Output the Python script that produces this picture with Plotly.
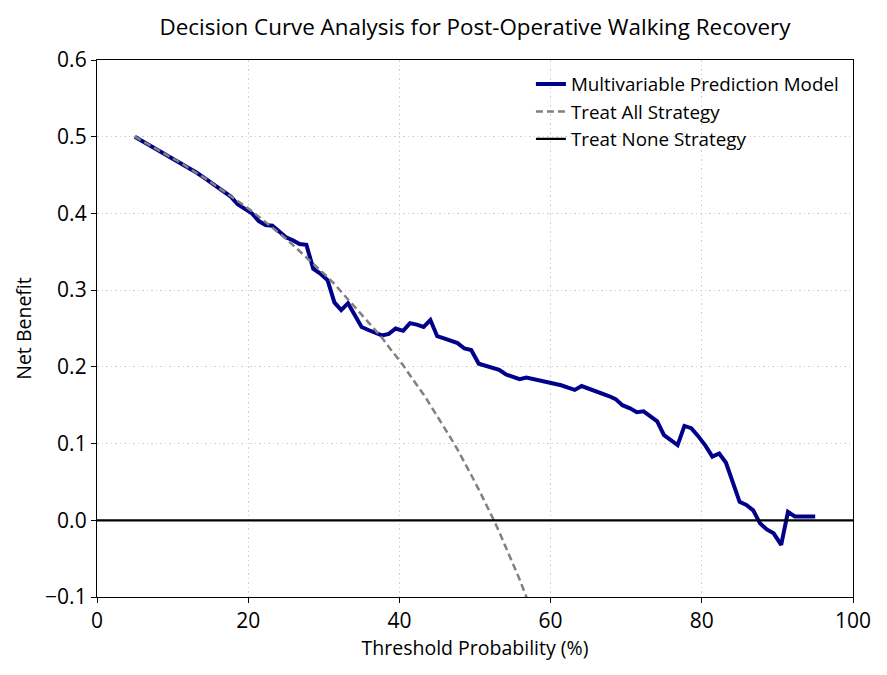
import plotly.graph_objects as go

# threshold grid (%), 100 steps from 5 to 95
thresholds = [
    5.0, 5.9, 6.8, 7.7, 8.6, 9.5, 10.5, 11.4, 12.3, 13.2,
    14.1, 15.0, 15.9, 16.8, 17.7, 18.6, 19.5, 20.5, 21.4, 22.3,
    23.2, 24.1, 25.0, 25.9, 26.8, 27.7, 28.6, 29.5, 30.5, 31.4,
    32.3, 33.2, 34.1, 35.0, 35.9, 36.8, 37.7, 38.6, 39.5, 40.5,
    41.4, 42.3, 43.2, 44.1, 45.0, 45.9, 46.8, 47.7, 48.6, 49.5,
    50.5, 51.4, 52.3, 53.2, 54.1, 55.0, 55.9, 56.8, 57.7, 58.6,
    59.5, 60.5, 61.4, 62.3, 63.2, 64.1, 65.0, 65.9, 66.8, 67.7,
    68.6, 69.5, 70.5, 71.4, 72.3, 73.2, 74.1, 75.0, 75.9, 76.8,
    77.7, 78.6, 79.5, 80.5, 81.4, 82.3, 83.2, 84.1, 85.0, 85.9,
    86.8, 87.7, 88.6, 89.5, 90.5, 91.4, 92.3, 93.2, 94.1, 95.0,
]

nb_model = [
    0.500, 0.495, 0.490, 0.485, 0.480, 0.475, 0.469, 0.464, 0.458, 0.453,
    0.447, 0.441, 0.435, 0.429, 0.422, 0.412, 0.406, 0.400, 0.390, 0.385,
    0.384, 0.376, 0.369, 0.365, 0.360, 0.359, 0.328, 0.322, 0.313, 0.284,
    0.274, 0.283, 0.268, 0.252, 0.248, 0.245, 0.241, 0.243, 0.250, 0.247,
    0.257, 0.255, 0.252, 0.261, 0.240, 0.237, 0.234, 0.231, 0.224, 0.222,
    0.204, 0.201, 0.199, 0.196, 0.190, 0.187, 0.184, 0.186, 0.184, 0.183,
    0.180, 0.179, 0.176, 0.173, 0.170, 0.175, 0.172, 0.168, 0.165, 0.162,
    0.158, 0.150, 0.146, 0.141, 0.142, 0.135, 0.129, 0.111, 0.105, 0.098,
    0.123, 0.120, 0.110, 0.097, 0.083, 0.087, 0.075, 0.050, 0.024, 0.020,
    0.013, -0.004, -0.012, -0.017, -0.032, 0.011, 0.005, 0.005, 0.005, 0.005,
]

# treat all, only the part that is inside the y range (first 60 thresholds)
nb_treat_all = [
    0.500, 0.495, 0.490, 0.485, 0.480, 0.475, 0.469, 0.464, 0.458, 0.453,
    0.447, 0.441, 0.435, 0.429, 0.423, 0.417, 0.410, 0.403, 0.396, 0.389,
    0.382, 0.374, 0.367, 0.359, 0.351, 0.343, 0.335, 0.326, 0.317, 0.308,
    0.298, 0.289, 0.279, 0.269, 0.259, 0.248, 0.238, 0.226, 0.215, 0.202,
    0.189, 0.177, 0.164, 0.150, 0.136, 0.122, 0.107, 0.092, 0.076, 0.059,
    0.040, 0.023, 0.004, -0.015, -0.035, -0.056, -0.077, -0.100, -0.123, -0.147,
]

treat_none_x = [0, 100]
treat_none_y = [0, 0]

x_ticks = [0, 20, 40, 60, 80, 100]
y_ticks = [-0.1, 0.0, 0.1, 0.2, 0.3, 0.4, 0.5, 0.6]
y_tick_text = ['\u22120.1', '0.0', '0.1', '0.2', '0.3', '0.4', '0.5', '0.6']

FONT = 'Open Sans'

fig = go.Figure()
fig.add_trace(go.Scatter(x=thresholds, y=nb_model, mode='lines',
                         name='Multivariable Prediction Model',
                         line=dict(color='#00008B', width=4)))
fig.add_trace(go.Scatter(x=thresholds[:len(nb_treat_all)], y=nb_treat_all, mode='lines',
                         name='Treat All Strategy',
                         line=dict(color='#808080', width=2.5, dash='7px,4px')))
fig.add_trace(go.Scatter(x=treat_none_x, y=treat_none_y, mode='lines',
                         name='Treat None Strategy',
                         line=dict(color='black', width=2.2)))

axis_common = dict(showline=True, linecolor='black', linewidth=1.3, mirror=True,
                   ticks='outside', ticklen=5, tickcolor='black', tickwidth=1.3,
                   showgrid=True, gridcolor='#cfcfcf', griddash='1.5px,3px', gridwidth=1.2,
                   zeroline=False, tickfont=dict(size=21, color='black', family=FONT))

# page has an 8px body margin, so the figure is a bit smaller than the window
fig.update_layout(
    width=879, height=667,
    paper_bgcolor='white', plot_bgcolor='white',
    margin=dict(l=89, r=34, t=52, b=78),
    font=dict(family=FONT, color='black'),
    title=dict(text='Decision Curve Analysis for Post-Operative Walking Recovery',
               x=(89 + 845) / 2 / 879, xanchor='center', y=0.972, yanchor='middle',
               font=dict(size=22.4, family=FONT, color='black')),
    xaxis=dict(range=[0, 100], tickvals=x_ticks,
               title=dict(text='Threshold Probability (%)', font=dict(size=19.5), standoff=6),
               **axis_common),
    yaxis=dict(range=[-0.1, 0.6], tickvals=y_ticks, ticktext=y_tick_text,
               title=dict(text='Net Benefit', font=dict(size=19.5), standoff=8),
               **axis_common),
    legend=dict(x=0.988, y=0.99, xanchor='right', yanchor='top',
                bgcolor='rgba(255,255,255,0)', borderwidth=0,
                font=dict(size=18.8, family=FONT)),
    showlegend=True,
)

fig.write_html("out.html")
